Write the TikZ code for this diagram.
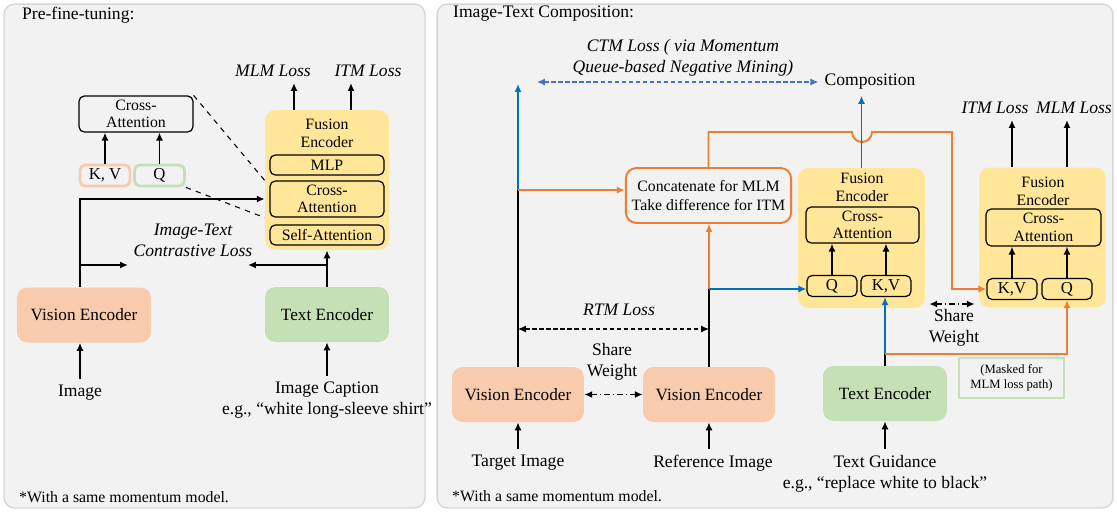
\documentclass[tikz,border=0pt]{standalone}
\usepackage{fontspec}
\setmainfont{Liberation Serif}
\usepackage{xcolor}
\usepackage{tikz}
\usetikzlibrary{arrows.meta,positioning}

\definecolor{panelgray}{HTML}{F2F2F2}
\definecolor{panelline}{HTML}{D6D6D6}
\definecolor{visorange}{HTML}{F8CBAD}
\definecolor{txtgreen}{HTML}{C5E0B4}
\definecolor{fuseyellow}{HTML}{FFE699}
\definecolor{pathorange}{HTML}{ED7D31}
\definecolor{pathblue}{HTML}{0070C0}
\definecolor{ctmblue}{HTML}{4472C4}

\tikzset{
	>={Latex[length=4.5pt,width=4pt]},
	panel/.style={draw=panelline, fill=panelgray, rounded corners=6pt, line width=0.8pt},
	encbox/.style={rounded corners=6pt, minimum height=1.1cm, font=\fontsize{9.8}{11}\selectfont},
	fusebox/.style={fill=fuseyellow, rounded corners=6pt, minimum height=2.8cm},
	layerbox/.style={draw, rounded corners=3pt, line width=0.7pt, align=center, inner sep=1pt, font=\fontsize{9}{10}\selectfont},
	tokbox/.style={draw, rounded corners=3pt, line width=0.7pt, minimum width=1cm, minimum height=0.42cm, inner sep=0pt, font=\fontsize{9.5}{10}\selectfont},
	lbl/.style={align=center, font=\fontsize{10}{12}\selectfont},
	losslbl/.style={align=center, font=\fontsize{10}{12}\selectfont\itshape},
	flow/.style={line width=1.1pt},
	lossline/.style={<->, line width=0.7pt, dash pattern=on 2.5pt off 1.5pt},
}

\begin{document}
\begin{tikzpicture}[x=0.02cm, y=-0.02cm]
	\useasboundingbox (0,0) rectangle (1117,512);
	\node[panel, minimum width=8.42cm, minimum height=10.08cm] (prepanel) at (214.5,256) {};
	\node[panel, minimum width=13.52cm, minimum height=10.08cm] (comppanel) at (775,256) {};
	\node[lbl, anchor=west] (pretitle) at (16,15) {Pre-fine-tuning:};
	\node[lbl, anchor=west] (comptitle) at (447,14) {Image-Text Composition:};
	%
	% pre-fine-tuning
	\node[fusebox, minimum width=2.48cm] (fuseL) at (327,180) {};
	\node[lbl, font=\fontsize{9}{10.2}\selectfont] (fuseLname) at (327,133) {Fusion\\Encoder};
	\node[layerbox, minimum width=2.28cm, minimum height=0.4cm] (mlpL) at (327,165) {MLP};
	\node[layerbox, minimum width=2.28cm, minimum height=0.72cm] (crossL) at (327,199) {Cross-\\Attention};
	\node[layerbox, minimum width=2.28cm, minimum height=0.4cm] (selfL) at (327,235) {Self-Attention};
	\node[layerbox, minimum width=2.28cm, minimum height=0.72cm] (caL) at (136,114) {Cross-\\Attention};
	\node[tokbox, draw=visorange, line width=1.6pt] (kvL) at (105,175.5) {K, V};
	\node[tokbox, draw=txtgreen, line width=1.6pt] (qL) at (159.5,175.5) {Q};
	\node[encbox, fill=visorange, minimum width=2.68cm] (visL) at (84,315) {Vision Encoder};
	\node[encbox, fill=txtgreen, minimum width=2.48cm] (txtL) at (327,314.5) {Text Encoder};
	\node[losslbl] (mlmL) at (273,71) {MLM Loss};
	\node[losslbl] (itmL) at (368,71) {ITM Loss};
	\node[losslbl] (itcL) at (193,240) {Image-Text\\Contrastive Loss};
	\node[lbl] (imgL) at (80,393) {Image};
	\node[lbl] (capL) at (327,400) {Image Caption\\e.g., “white long-sleeve shirt”};
	\node[lbl, font=\fontsize{9}{11}\selectfont, anchor=west] (noteL) at (13,497) {*With a same momentum model.};
	%
	\coordinate (vtapL) at (80,199);
	\coordinate (itcinL) at (128,265);
	\coordinate (itcinR) at (248,265);
	\draw[flow,->] (visL.north -| vtapL) -- (vtapL) -- (fuseL.west |- crossL);
	\draw[flow,->] (vtapL |- itcinL) -- (itcinL);
	\draw[flow,->] (txtL.north) -- (fuseL.south);
	\draw[flow,->] (txtL.north |- itcinR) -- (itcinR);
	\draw[flow,->] (kvL.north) -- (kvL.north |- caL.south);
	\draw[flow,->] (qL.north) -- (qL.north |- caL.south);
	\draw[dashed, line width=0.6pt] (caL.north east) -- (fuseL.west |- crossL.north);
	\draw[dashed, line width=0.6pt] (qL.south east) -- (fuseL.west |- crossL.south);
	\draw[flow,->] ([xshift=-0.66cm]fuseL.north) -- ([xshift=-0.66cm]fuseL.north |- mlmL.south);
	\draw[flow,->] ([xshift=0.48cm]fuseL.north) -- ([xshift=0.48cm]fuseL.north |- itmL.south);
	\draw[flow,->] (imgL.north) -- (imgL.north |- visL.south);
	\draw[flow,->] (capL.north) -- (txtL.south);
	%
	% image-text composition
	\node[losslbl] (ctm) at (683,58) {CTM Loss ( via Momentum\\Queue-based Negative Mining)};
	\node[lbl] (compo) at (870,82) {Composition};
	\node[encbox, fill=visorange, minimum width=2.64cm] (visT) at (518,394.5) {Vision Encoder};
	\node[encbox, fill=visorange, minimum width=2.64cm] (visR) at (709,394.5) {Vision Encoder};
	\node[encbox, fill=txtgreen, minimum width=2.48cm] (txtR) at (885,393.5) {Text Encoder};
	\node[draw=pathorange, line width=1.1pt, rounded corners=6pt, minimum width=3.26cm, minimum height=1.1cm, align=center, font=\fontsize{9}{10.5}\selectfont] (merge) at (708.5,195.5) {Concatenate for MLM\\Take difference for ITM};
	\node[fusebox, minimum width=2.54cm] (fuse1) at (861.5,238) {};
	\node[lbl, font=\fontsize{9}{10.2}\selectfont] (fuse1name) at (862,187) {Fusion\\Encoder};
	\node[layerbox, minimum width=2.26cm, minimum height=0.72cm] (cross1) at (862.5,225) {Cross-\\Attention};
	\node[tokbox] (q1) at (832,286) {Q};
	\node[tokbox] (kv1) at (886,286) {K,V};
	\node[fusebox, minimum width=2.54cm] (fuse2) at (1042.5,237.5) {};
	\node[lbl, font=\fontsize{9}{10.2}\selectfont] (fuse2name) at (1043,191) {Fusion\\Encoder};
	\node[layerbox, minimum width=2.3cm, minimum height=0.74cm] (cross2) at (1043.5,227.5) {Cross-\\Attention};
	\node[tokbox] (kv2) at (1012,289) {K,V};
	\node[tokbox] (q2) at (1067,289) {Q};
	\node[losslbl] (itm2) at (995,108) {ITM Loss};
	\node[losslbl] (mlm2) at (1074,108) {MLM Loss};
	\node[losslbl] (rtm) at (619,310) {RTM Loss};
	\node[lbl] (share1) at (612,362) {Share\\Weight};
	\node[lbl] (share2) at (954,328) {Share\\Weight};
	\node[draw=txtgreen, line width=0.6pt, minimum width=2.1cm, minimum height=0.8cm, inner sep=1pt, align=center, font=\fontsize{7.2}{8.6}\selectfont] (maskn) at (1011.5,378) {(Masked for\\MLM loss path)};
	\node[lbl] (tgtimg) at (518,463) {Target Image};
	\node[lbl] (refimg) at (713,463) {Reference Image};
	\node[lbl] (guide) at (885,473.5) {Text Guidance\\e.g., “replace white to black”};
	\node[lbl, font=\fontsize{9}{11}\selectfont, anchor=west] (noteR) at (446,496) {*With a same momentum model.};
	%
	\coordinate (ctmstart) at (537,82);
	\coordinate (tsplit) at (518,190);
	\coordinate (tgtup) at (518,84);
	\coordinate (rsplit) at (709,289);
	\coordinate (gsplit) at (885,354);
	\coordinate (hopL) at (852,132);
	\coordinate (loopTR) at (952,132);
	\coordinate (rtmrow) at (600,329);
	\coordinate (sw2row) at (950,304);
	%
	\draw[lossline, ctmblue] (ctmstart) -- (compo.west);
	\draw[flow] (visT.north) -- (tsplit);
	\draw[flow, pathblue, ->] (tsplit) -- (tgtup);
	\draw[flow, pathorange, ->] (tsplit) -- (merge.west |- tsplit);
	\draw[flow] (visR.north) -- (rsplit);
	\draw[flow, pathorange, ->] (rsplit) -- (rsplit |- merge.south);
	\draw[flow, pathblue, ->] (rsplit) -- (q1.west |- rsplit);
	\draw[flow, pathorange, ->] (merge.north) -- (merge.north |- hopL) -- (hopL) arc[start angle=180, end angle=360, radius=0.2cm] -- (loopTR) -- (loopTR |- kv2) -- (kv2.west);
	\draw[flow, pathblue, ->] (fuse1.north) -- (fuse1.north |- compo.south);
	\draw[flow] (txtR.north) -- (gsplit);
	\draw[flow, pathblue, ->] (gsplit) -- (gsplit |- kv1.south);
	\draw[flow, pathorange, ->] (gsplit) -- (gsplit -| q2) -- (q2.south);
	\draw[flow, ->] (q1.north) -- (q1.north |- cross1.south);
	\draw[flow, ->] (kv1.north) -- (kv1.north |- cross1.south);
	\draw[flow, ->] (kv2.north) -- (kv2.north |- cross2.south);
	\draw[flow, ->] (q2.north) -- (q2.north |- cross2.south);
	\draw[flow, ->] (kv2.north |- fuse2.north) -- (kv2.north |- itm2.south);
	\draw[flow, ->] (q2.north |- fuse2.north) -- (q2.north |- mlm2.south);
	\draw[lossline] (visT.north |- rtmrow) -- (visR.north |- rtmrow);
	\draw[<->, dashdotted, line width=0.9pt] (visT) -- (visR);
	\draw[<->, dashdotted, line width=0.9pt, shorten <=0.08cm, shorten >=0.08cm] (fuse1.east |- sw2row) -- (fuse2.west |- sw2row);
	\draw[flow, ->] (tgtimg.north) -- (visT.south);
	\draw[flow, ->] (visR.south |- refimg.north) -- (visR.south);
	\draw[flow, ->] (guide.north) -- (txtR.south);
\end{tikzpicture}
\end{document}
